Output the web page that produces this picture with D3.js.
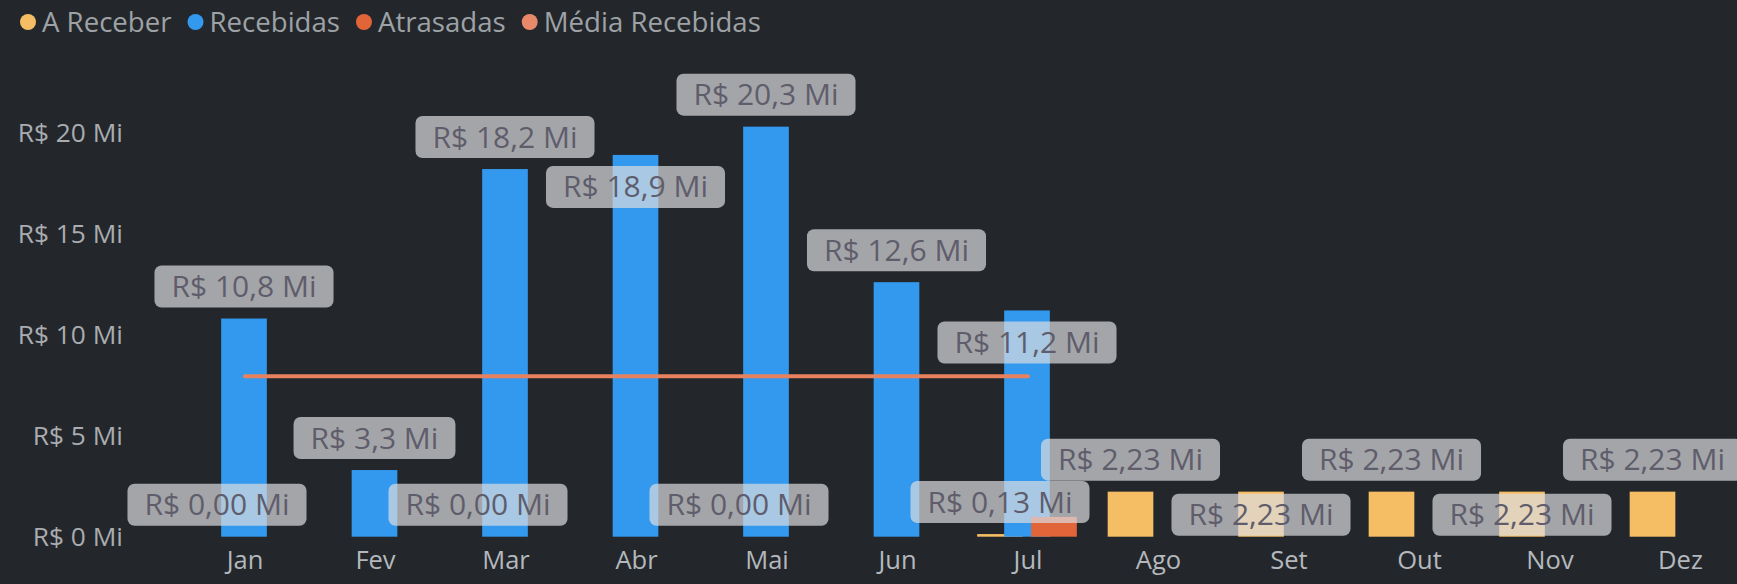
<!DOCTYPE html>
<html>
<head>
<meta charset="utf-8">
<script src="https://cdn.jsdelivr.net/npm/d3@7"></script>
<style>
    html, body { margin: 0; padding: 0; background: #23272b; overflow: hidden; }
    svg { display: block; font-family: 'Segoe UI', 'Open Sans', sans-serif; }
</style>
</head>
<body>
<svg id="chart"></svg>
<script>
// values in R$ millions
const months = ['Jan', 'Fev', 'Mar', 'Abr', 'Mai', 'Jun', 'Jul', 'Ago', 'Set', 'Out', 'Nov', 'Dez'];
const aReceber = [0, 0, 0, 0, 0, 0, 0.13, 2.23, 2.23, 2.23, 2.23, 2.23];
const recebidas = [10.8, 3.3, 18.2, 18.9, 20.3, 12.6, 11.2, null, null, null, null, null];
const atrasadas = [0, 0, 0, 0, 0, 0, 0.98, null, null, null, null, null];
const mediaRecebidas = [7.94, 7.94, 7.94, 7.94, 7.94, 7.94, 7.94, null, null, null, null, null];
const yTicks = [0, 5, 10, 15, 20];

const width = 1737;
const height = 584;

const series = [
    { name: 'A Receber', values: aReceber, color: '#F5BE64', decimals: 2 },
    { name: 'Recebidas', values: recebidas, color: '#3399EF', decimals: 1 },
    { name: 'Atrasadas', values: atrasadas, color: '#E2653A', decimals: 2 }
];
const media = { name: 'Média Recebidas', values: mediaRecebidas, color: '#E8825E' };

const svg = d3.select('#chart').attr('width', width).attr('height', height);

const x = d3.scalePoint().domain(months).range([245, 1680.5]);
const step = x.step();
const xSub = d3.scalePoint().domain(series.map(s => s.name)).range([-28, 26]);
const barWidth = step * 0.35;

const y = d3.scaleLinear().domain([0, 20]).range([536.7, 132.7]);
const baseline = y(0);

const fmtValue = (v, dec) => `R$ ${d3.format(`.${dec}f`)(v).replace('.', ',')} Mi`;

// Legend
const legend = svg.append('g').attr('class', 'legend');
let lx = 28;
[...series, media].forEach(s => {
    legend.append('circle')
        .attr('cx', lx).attr('cy', 22).attr('r', 8)
        .attr('fill', s.name === media.name ? '#E8896A' : s.color);
    const t = legend.append('text')
        .attr('x', lx + 14).attr('y', 22)
        .attr('dy', '0.35em')
        .attr('fill', '#9ea2a6')
        .style('font-size', '27.6px')
        .text(s.name);
    lx += 14 + t.node().getComputedTextLength() + 24;
});

// Y axis labels
svg.append('g')
    .selectAll('text')
    .data(yTicks)
    .enter().append('text')
    .attr('x', 123)
    .attr('y', d => y(d))
    .attr('dy', '0.35em')
    .attr('text-anchor', 'end')
    .attr('fill', '#a9acb0')
    .style('font-size', '26.3px')
    .text(d => `R$ ${d} Mi`);

// X axis labels
svg.append('g')
    .selectAll('text')
    .data(months)
    .enter().append('text')
    .attr('x', d => x(d))
    .attr('y', 569)
    .attr('text-anchor', 'middle')
    .attr('fill', '#b4b8bd')
    .style('font-size', '25.5px')
    .text(d => d);

// Bars
const bars = svg.append('g').attr('class', 'bars');
series.forEach(s => {
    const rows = months.map((m, i) => ({ m, v: s.values[i] })).filter(d => d.v !== null);
    bars.append('g')
        .selectAll('rect')
        .data(rows)
        .enter().append('rect')
        .attr('x', d => x(d.m) + xSub(s.name) - barWidth / 2)
        .attr('y', d => y(d.v))
        .attr('width', barWidth)
        .attr('height', d => baseline - y(d.v))
        .attr('fill', s.color);
});

// Average line
const line = d3.line()
    .defined(d => d.v !== null)
    .x(d => x(d.m))
    .y(d => y(d.v));
svg.append('path')
    .datum(months.map((m, i) => ({ m, v: media.values[i] })))
    .attr('d', line)
    .attr('fill', 'none')
    .attr('stroke', media.color)
    .attr('stroke-width', 4)
    .attr('stroke-linecap', 'round');

// Data labels: try above the bar, then inside the top; hide if both collide
const labelLayer = svg.append('g').attr('class', 'labels');
const boxH = 42;
const gap = 11;
const placed = [];
const eps = 2;
const overlaps = (a, b) => a.x + eps < b.x + b.w && b.x + eps < a.x + a.w &&
    a.y + eps < b.y + b.h && b.y + eps < a.y + a.h;

const measure = svg.append('text').style('font-size', '30px');
series.forEach(s => {
    months.forEach((m, i) => {
        const v = s.values[i];
        if (v === null) return;
        const label = fmtValue(v, s.decimals);
        measure.text(label);
        const w = measure.node().getComputedTextLength() + 34;
        const cx = x(m) + xSub(s.name);
        const top = y(v);
        const candidates = [
            { x: cx - w / 2, y: top - gap - boxH, w, h: boxH },
            { x: cx - w / 2, y: Math.min(top + gap, baseline - 1 - boxH), w, h: boxH }
        ];
        const spot = candidates.find(c => !placed.some(p => overlaps(c, p)));
        if (spot) placed.push({ ...spot, label, cx });
    });
});
measure.remove();

const lbl = labelLayer.selectAll('g')
    .data(placed)
    .enter().append('g');

lbl.append('rect')
    .attr('x', d => d.x)
    .attr('y', d => d.y)
    .attr('width', d => d.w)
    .attr('height', d => d.h)
    .attr('rx', 7)
    .attr('fill', '#dcdce0')
    .attr('fill-opacity', 0.7);

lbl.append('text')
    .attr('x', d => d.cx)
    .attr('y', d => d.y + d.h / 2)
    .attr('dy', '0.35em')
    .attr('text-anchor', 'middle')
    .attr('fill', '#5f5d6b')
    .style('font-size', '30px')
    .text(d => d.label);
</script>
</body>
</html>
